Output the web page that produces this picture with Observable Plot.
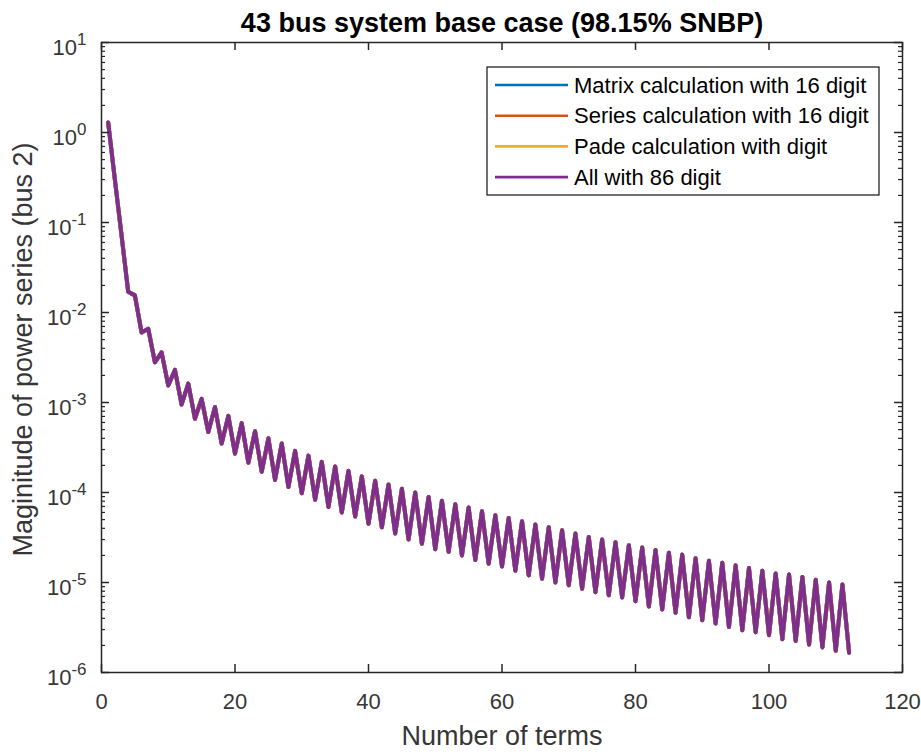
<!DOCTYPE html>
<html>
<head>
<meta charset="utf-8">
<script src="https://cdn.jsdelivr.net/npm/d3@7"></script>
<script src="https://cdn.jsdelivr.net/npm/@observablehq/plot@0.6"></script>
<style>
  html, body { margin: 0; padding: 0; background: #fff; }
</style>
</head>
<body>
<div id="chart"></div>
<script>
// Magnitude of the power-series coefficients at bus 2, term by term.
const terms = d3.range(1, 113);
const magnitude = [
  1.29, 0.30, 0.072, 0.017, 0.0155, 6.0e-3, 6.6e-3, 2.8e-3, 3.6e-3, 1.55e-3,
  2.3e-3, 9.5e-4, 1.62e-3, 6.6e-4, 1.10e-3, 4.7e-4, 8.9e-4, 3.5e-4, 7.1e-4, 2.7e-4,
  5.9e-4, 2.14e-4, 4.8e-4, 1.70e-4, 4.0e-4, 1.38e-4, 3.5e-4, 1.15e-4, 2.9e-4, 9.8e-5,
  2.57e-4, 8.3e-5, 2.19e-4, 6.9e-5, 1.95e-4, 6.0e-5, 1.74e-4, 5.4e-5, 1.51e-4, 4.5e-5,
  1.35e-4, 4.1e-5, 1.23e-4, 3.5e-5, 1.10e-4, 3.0e-5, 1.00e-4, 2.7e-5, 8.9e-5, 2.34e-5,
  8.1e-5, 2.19e-5, 7.4e-5, 2.0e-5, 6.8e-5, 1.78e-5, 6.2e-5, 1.62e-5, 5.6e-5, 1.51e-5,
  5.2e-5, 1.35e-5, 4.8e-5, 1.20e-5, 4.4e-5, 1.10e-5, 4.1e-5, 1.00e-5, 3.8e-5, 9.3e-6,
  3.5e-5, 8.5e-6, 3.2e-5, 7.8e-6, 3.0e-5, 7.2e-6, 2.8e-5, 6.8e-6, 2.6e-5, 6.2e-6,
  2.45e-5, 5.4e-6, 2.3e-5, 5.0e-6, 2.14e-5, 4.6e-6, 2.04e-5, 4.1e-6, 1.86e-5, 3.8e-6,
  1.74e-5, 3.5e-6, 1.66e-5, 3.2e-6, 1.55e-5, 2.95e-6, 1.45e-5, 2.8e-6, 1.35e-5, 2.6e-6,
  1.26e-5, 2.34e-6, 1.23e-5, 2.24e-6, 1.15e-5, 2.04e-6, 1.07e-5, 1.9e-6, 1.00e-5, 1.74e-6,
  9.5e-6, 1.66e-6
];

// The four computations agree to plotting precision, so they share one curve.
const seriesNames = [
  "Matrix calculation with 16 digit",
  "Series calculation with 16 digit",
  "Pade calculation with digit",
  "All with 86 digit"
];
const seriesColors = ["#0072BD", "#D95319", "#EDB120", "#7E2F8E"];

const xTicks = [0, 20, 40, 60, 80, 100, 120];
const yDecades = [1e-6, 1e-5, 1e-4, 1e-3, 1e-2, 1e-1, 1e0, 1e1];
const yMinor = yDecades.slice(0, -1).flatMap(d => [2, 3, 4, 5, 6, 7, 8, 9].map(k => k * d));

const titleText = "43 bus system base case (98.15% SNBP)";
const xLabel = "Number of terms";
const yLabel = "Maginitude of power series (bus 2)";

const rows = seriesNames.flatMap(name => terms.map((t, i) => ({series: name, term: t, value: magnitude[i]})));

const ink = "#262626";
const labelInk = "#363636";
const W = 921, H = 754;
const M = {left: 101, right: 19, top: 42, bottom: 82};
const innerW = W - M.left - M.right;
const innerH = H - M.top - M.bottom;

// Short inward tick marks: a full-length tick inset to the wanted length.
const tickStyle = (len, side, width) => ({
  stroke: ink,
  strokeWidth: width,
  ...(side === "bottom" ? {insetTop: innerH - len} : {}),
  ...(side === "top" ? {insetBottom: innerH - len} : {}),
  ...(side === "left" ? {insetRight: innerW - len} : {}),
  ...(side === "right" ? {insetLeft: innerW - len} : {})
});

const plot = Plot.plot({
  width: W,
  height: H,
  marginLeft: M.left,
  marginRight: M.right,
  marginTop: M.top,
  marginBottom: M.bottom,
  style: {fontFamily: "'Liberation Sans', Arial, sans-serif", background: "white", overflow: "visible"},
  x: {domain: [0, 120]},
  y: {type: "log", domain: [1e-6, 10]},
  color: {domain: seriesNames, range: seriesColors},
  marks: [
    Plot.line(rows, {x: "term", y: "value", z: "series", stroke: "series", strokeWidth: 4}),
    // inward ticks on all four sides
    Plot.tickX(xTicks, {x: d => d, ...tickStyle(8, "bottom", 1.5)}),
    Plot.tickX(xTicks, {x: d => d, ...tickStyle(8, "top", 1.5)}),
    Plot.tickY(yDecades, {y: d => d, ...tickStyle(8, "left", 1.5)}),
    Plot.tickY(yDecades, {y: d => d, ...tickStyle(8, "right", 1.5)}),
    Plot.tickY(yMinor, {y: d => d, ...tickStyle(4, "left", 1.2)}),
    Plot.tickY(yMinor, {y: d => d, ...tickStyle(4, "right", 1.2)}),
    Plot.frame({stroke: ink, strokeWidth: 1.5}),
    // tick labels
    Plot.axisX(xTicks, {anchor: "bottom", tickSize: 0, tickPadding: 21, fontSize: 22, fill: labelInk, label: null}),
    Plot.axisY(yDecades, {anchor: "left", tickSize: 0, tickPadding: 15, dy: 5, fontSize: 22, fill: labelInk, label: null,
      tickFormat: d => String(Math.round(Math.log10(d)))}),
    // title and axis labels
    Plot.text([titleText], {frameAnchor: "top", dy: -11, lineAnchor: "bottom", fontWeight: "bold", fontSize: 27, fill: "#000"}),
    Plot.text([xLabel], {frameAnchor: "bottom", dy: 72, lineAnchor: "bottom", fontSize: 27, fill: labelInk}),
    Plot.text([yLabel], {frameAnchor: "left", textAnchor: "middle", dx: -78, dy: -8, rotate: -90, fontSize: 27, fill: labelInk})
  ]
});

// Powers of ten with raised exponents on the log axis.
d3.select(plot).selectAll('g[aria-label="y-axis tick label"] text').each(function () {
  const exp = this.textContent;
  const t = d3.select(this);
  t.text(null);
  t.append("tspan").text("10");
  t.append("tspan").attr("dy", "-0.55em").attr("font-size", 17).text(exp);
});

// Legend box in the upper right corner of the axes.
const svg = d3.select(plot);
const lgW = 392, lgH = 128;
const lgX = W - M.right - 23 - lgW;
const lgY = M.top + 25;
const lg = svg.append("g")
  .attr("font-family", "'Liberation Sans', Arial, sans-serif")
  .attr("text-anchor", "start");
lg.append("rect")
  .attr("x", lgX).attr("y", lgY).attr("width", lgW).attr("height", lgH)
  .attr("fill", "white").attr("stroke", ink).attr("stroke-width", 1.3);
seriesNames.forEach((name, i) => {
  const cy = lgY + 18 + i * 30.7;
  lg.append("line")
    .attr("x1", lgX + 8).attr("x2", lgX + 81).attr("y1", cy).attr("y2", cy)
    .attr("stroke", seriesColors[i]).attr("stroke-width", 2.6);
  lg.append("text")
    .attr("x", lgX + 87).attr("y", cy).attr("dy", "0.35em")
    .attr("font-size", 22).attr("fill", "#000").text(name);
});

document.getElementById("chart").appendChild(plot);
</script>
</body>
</html>
